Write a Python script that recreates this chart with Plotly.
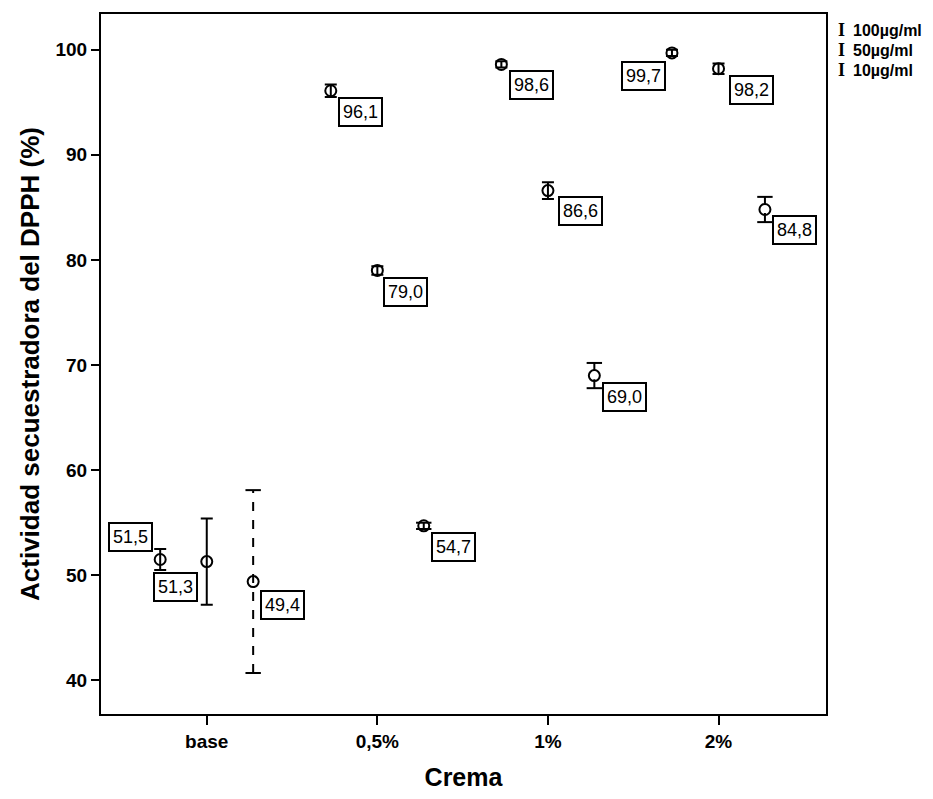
import plotly.graph_objects as go

# ---------------- data ----------------
categories = ["base", "0,5%", "1%", "2%"]
series_names = ["100µg/ml", "50µg/ml", "10µg/ml"]
val_100 = [51.5, 96.1, 98.6, 99.7]
val_50 = [51.3, 79.0, 86.6, 98.2]
val_10 = [49.4, 54.7, 69.0, 84.8]
err_100 = [1.0, 0.6, 0.3, 0.3]
err_50 = [4.1, 0.4, 0.8, 0.5]
err_10 = [8.7, 0.3, 1.2, 1.2]
y_ticks = [40, 50, 60, 70, 80, 90, 100]

# ---------------- style ----------------
FONT = "Liberation Sans, Arial, sans-serif"
offsets = [-0.273, 0.0, 0.272]
dashes = ["solid", "solid", "dash"]
# label placement per point: (xanchor, yanchor, xshift, yshift)
label_pos = [
    [("right", "bottom", -7, 8), ("left", "top", 7, -6), ("left", "top", 8, -6), ("right", "top", -6, -8)],
    [("right", "top", -9, -10), ("left", "top", 6, -7), ("left", "top", 10, -5), ("left", "top", 10, -6)],
    [("left", "top", 7, -8), ("left", "top", 7, -6), ("left", "top", 8, -6), ("left", "top", 7, -5)],
]

values = [val_100, val_50, val_10]
errors = [err_100, err_50, err_10]

fig = go.Figure()

annotations = []
for s, (name, vals, errs) in enumerate(zip(series_names, values, errors)):
    xs = [i + offsets[s] for i in range(len(categories))]
    if dashes[s] == "solid":
        fig.add_trace(go.Scatter(
            x=xs, y=vals, mode="markers", name=name, showlegend=False,
            marker=dict(symbol="circle-open", size=11, color="black", line=dict(width=2, color="black")),
            error_y=dict(type="data", array=errs, visible=True, color="black", thickness=2, width=6),
        ))
    else:
        lx, ly = [], []
        for x, v, e in zip(xs, vals, errs):
            lx += [x, x, None]
            ly += [v - e, v + e, None]
        fig.add_trace(go.Scatter(
            x=lx, y=ly, mode="lines", showlegend=False, hoverinfo="skip",
            line=dict(color="black", width=2, dash="dash"),
        ))
        cx, cy = [], []
        for x, v, e in zip(xs, vals, errs):
            cx += [x, x]
            cy += [v - e, v + e]
        fig.add_trace(go.Scatter(
            x=cx, y=cy, mode="markers", showlegend=False, hoverinfo="skip",
            marker=dict(symbol="line-ew", size=11, color="black", line=dict(width=2, color="black")),
        ))
        fig.add_trace(go.Scatter(
            x=xs, y=vals, mode="markers", name=name, showlegend=False,
            marker=dict(symbol="circle-open", size=11, color="black", line=dict(width=2, color="black")),
        ))
    for i, (x, v) in enumerate(zip(xs, vals)):
        xa, ya, dx, dy = label_pos[s][i]
        annotations.append(dict(
            x=x, y=v, xref="x", yref="y", text=f"{v:.1f}".replace(".", ","),
            showarrow=False, xanchor=xa, yanchor=ya, xshift=dx, yshift=dy,
            font=dict(family=FONT, size=18, color="black"),
            bgcolor="white", bordercolor="black", borderwidth=2, borderpad=3,
        ))

# legend drawn as text
for k, name in enumerate(series_names):
    annotations.append(dict(
        x=1.0, y=1.0, xref="paper", yref="paper", text="<b>I</b>", showarrow=False,
        xanchor="left", yanchor="middle", xshift=10, yshift=-16 - 20 * k,
        font=dict(family="Liberation Serif, serif", size=18, color="black"),
    ))
    annotations.append(dict(
        x=1.0, y=1.0, xref="paper", yref="paper", text=name, showarrow=False,
        xanchor="left", yanchor="middle", xshift=25, yshift=-16 - 20 * k,
        font=dict(family=FONT, size=16, color="black", weight="bold"),
    ))

fig.update_layout(
    width=933, height=799,
    margin=dict(l=101, r=107, t=13, b=81),
    paper_bgcolor="white", plot_bgcolor="white",
    showlegend=False,
    annotations=annotations,
    font=dict(family=FONT, color="black"),
)
fig.update_xaxes(
    range=[-0.62, 3.63], tickvals=list(range(len(categories))), ticktext=categories,
    showgrid=False, zeroline=False, showline=True, linecolor="black", linewidth=2, mirror=True,
    ticks="outside", ticklen=9, tickwidth=2, tickcolor="black",
    tickfont=dict(family=FONT, size=19, color="black", weight="bold"),
    title=dict(text="Crema", font=dict(family=FONT, size=25, color="black", weight="bold"), standoff=18),
)
fig.update_yaxes(
    range=[36.8, 103.4], tickvals=y_ticks,
    showgrid=False, zeroline=False, showline=True, linecolor="black", linewidth=2, mirror=True,
    ticks="outside", ticklen=8, tickwidth=2, tickcolor="black",
    tickfont=dict(family=FONT, size=19, color="black", weight="bold"),
    title=dict(text="Actividad secuestradora del DPPH (%)", font=dict(family=FONT, size=26, color="black", weight="bold"), standoff=8),
)

fig.write_html("out.html")
